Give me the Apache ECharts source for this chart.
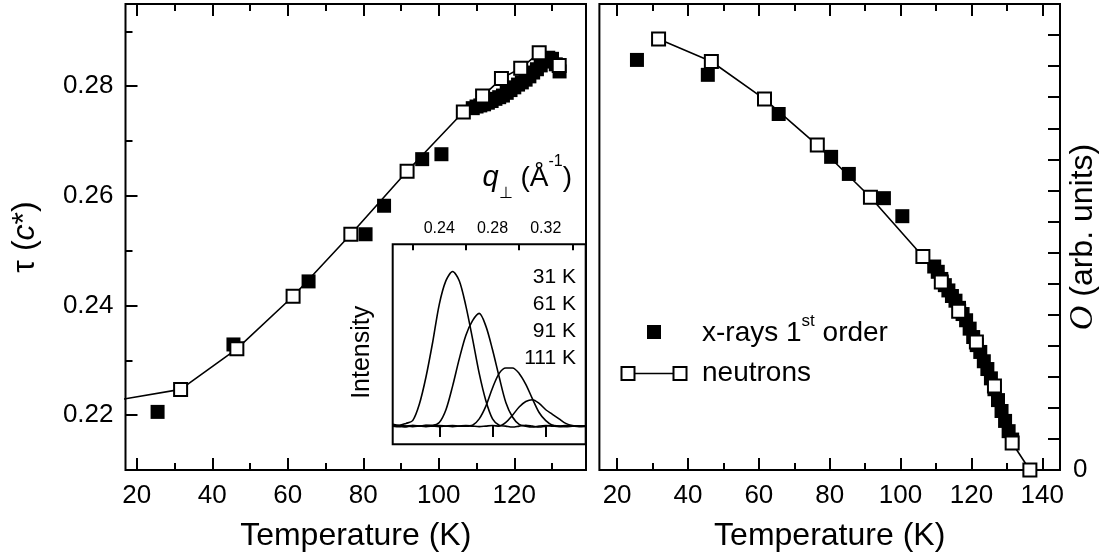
<!DOCTYPE html>
<html>
<head>
<meta charset="utf-8">
<script src="https://cdn.jsdelivr.net/npm/echarts@6/dist/echarts.min.js"></script>
<style>
  html, body { margin: 0; padding: 0; background: #fff; }
  #chart { width: 1114px; height: 557px; }
</style>
</head>
<body>
<div id="chart"></div>
<script>
// ---- Left panel: modulation wave vector tau (units of c*) vs temperature ----
const T_XRAY_L = [25.5, 45.6, 65.5, 80.6, 85.5, 95.6, 100.7,
  109, 110, 111, 112, 113, 114, 115, 116, 117, 118, 119, 120,
  121, 122, 123, 124, 125, 126, 127, 128, 129, 130, 131, 132];
const TAU_XRAY = [0.2206, 0.2329, 0.2444, 0.2530, 0.2582, 0.2667, 0.2676,
  0.2760, 0.2763, 0.2765, 0.2767, 0.2770, 0.2773, 0.2777, 0.2780, 0.2783, 0.2788, 0.2793, 0.2798,
  0.2803, 0.2807, 0.2812, 0.2818, 0.2825, 0.2831, 0.2838, 0.2845, 0.2852, 0.2850, 0.2840, 0.2827];
const T_NEUT_L = [11, 31.6, 46.5, 61.4, 76.7, 91.6, 106.5, 111.6, 116.6, 121.7, 126.6, 131.9];
const TAU_NEUT = [0.2223, 0.2247, 0.2321, 0.2417, 0.2530, 0.2645, 0.2753, 0.2782, 0.2814, 0.2833, 0.2861, 0.2838];

// ---- Right panel: order parameter (arb. units) vs temperature ----
const T_XRAY_R = [25.6, 45.6, 65.6, 80.4, 85.4, 95.3, 100.5,
  109.5, 110.5, 111.5, 112.5, 113.5, 114.5, 115.5, 116.5, 117.5, 118.5, 119.5, 120.5,
  121.5, 122.5, 123.5, 124.5, 125.5, 126.5, 127.5, 128.5, 129.5, 130.5, 131.5];
const OP_XRAY = [13.2, 12.72, 11.46, 10.08, 9.53, 8.75, 8.17,
  6.55, 6.38, 6.15, 5.95, 5.78, 5.60, 5.45, 5.22, 5.02, 4.82, 4.55, 4.28,
  4.02, 3.80, 3.50, 3.25, 2.95, 2.60, 2.25, 1.90, 1.58, 1.25, 0.98];
const T_NEUT_R = [31.7, 46.6, 61.6, 76.5, 91.5, 106.3, 111.5, 116.4, 121.4, 126.5, 131.5, 136.5];
const OP_NEUT = [13.87, 13.15, 11.94, 10.46, 8.78, 6.87, 6.05, 5.11, 4.12, 2.70, 0.87, 0.0];

// ---- Inset: scans along q_perp at four temperatures ----
const Q_GRID = [0.205, 0.210, 0.215, 0.220, 0.225, 0.230, 0.235, 0.240, 0.245, 0.250,
  0.255, 0.260, 0.265, 0.270, 0.275, 0.280, 0.285, 0.290, 0.295, 0.300,
  0.305, 0.310, 0.315, 0.320, 0.325, 0.330, 0.335, 0.340, 0.345, 0.350];
const I_31K = [1, 0.5, 1.5, 3, 12, 27, 46, 67, 80, 85, 80, 66, 48, 29, 14, 4, 0.5, 0, -0.5, 0,
  0.5, 0, -0.5, 0, 0.5, 0, -0.3, 0, 0.2, 0];
const I_61K = [0.5, 0, -0.5, 0.3, 0, 0.5, 0.5, 2, 9, 22, 37, 50, 58, 62, 55, 42, 27, 13, 5, 1,
  0, -0.5, 0, 0.3, 0, -0.3, 0, 0.2, 0, -0.2];
const I_91K = [0, 0.3, 0, -0.3, 0, 0.3, 0, -0.3, 0, 0.3, 0, 0, 0.5, 4, 11, 21, 29, 32, 32, 29,
  23, 15, 7.5, 3, 0.5, 0, 0.3, 0, -0.3, 0];
const I_111K = [0, -0.3, 0, 0.3, 0, -0.3, 0, 0.3, 0, -0.3, 0, 0.3, 0, -0.3, 0, 0.3, 0, 2, 6, 10.5,
  13.5, 14.5, 12.5, 9, 6.5, 4, 1.5, 0.3, 0, 0];
const INSET_LABELS = ['31 K', '61 K', '91 K', '111 K'];

// ---- Tick positions ----
const T_MAJOR_L = [20, 40, 60, 80, 100, 120];
const T_MINOR_L = [30, 50, 70, 90, 110, 130];
const T_MAJOR_R = [20, 40, 60, 80, 100, 120, 140];
const T_MINOR_R = [30, 50, 70, 90, 110, 130];
const TAU_MAJOR = [0.22, 0.24, 0.26, 0.28];
const TAU_MINOR = [0.23, 0.25, 0.27, 0.29];
const Q_MAJOR = [0.24, 0.28, 0.32];
const Q_MINOR = [0.22, 0.26, 0.30, 0.34];

const FONT = '"Liberation Sans", Arial, Helvetica, sans-serif';
const SERIF = '"Liberation Serif", "Times New Roman", serif';
const BLACK = '#000';

const zip = (xs, ys) => xs.map((x, i) => [x, ys[i]]);

// Tick-only axis (no line, no labels) used for inner tick marks on any side.
function tickAxis(gridIndex, position, min, max, values, length) {
  return {
    gridIndex, type: 'value', position, min, max,
    axisLine: { show: false }, splitLine: { show: false },
    axisTick: { show: true, inside: true, length, customValues: values,
      lineStyle: { color: BLACK, width: 2 } },
    axisLabel: { show: false }
  };
}

function labelAxis(gridIndex, position, min, max, values, length, fontSize, margin, formatter) {
  const ax = tickAxis(gridIndex, position, min, max, values, length);
  ax.axisLabel = { show: true, customValues: values, fontSize, margin,
    color: BLACK, fontFamily: FONT };
  if (formatter) ax.axisLabel.formatter = formatter;
  return ax;
}

const tempName = {
  name: 'Temperature (K)', nameLocation: 'middle', nameGap: 50, nameMoveOverlap: false,
  nameTextStyle: { fontSize: 32, color: BLACK, fontFamily: FONT }
};

const xAxes = [
  // left panel
  Object.assign(labelAxis(0, 'bottom', 17, 139, T_MAJOR_L, 12, 26, 13), tempName),
  tickAxis(0, 'bottom', 17, 139, T_MINOR_L, 7),
  tickAxis(0, 'top', 17, 139, T_MAJOR_L, 12),
  tickAxis(0, 'top', 17, 139, T_MINOR_L, 7),
  // right panel
  Object.assign(labelAxis(1, 'bottom', 15, 145, T_MAJOR_R, 12, 26, 13), tempName),
  tickAxis(1, 'bottom', 15, 145, T_MINOR_R, 7),
  tickAxis(1, 'top', 15, 145, T_MAJOR_R, 12),
  tickAxis(1, 'top', 15, 145, T_MINOR_R, 7),
  // inset (q axis along the top)
  labelAxis(2, 'top', 0.205, 0.35, Q_MAJOR, 11, 16, 8, v => v.toFixed(2)),
  tickAxis(2, 'top', 0.205, 0.35, Q_MINOR, 6)
];

const yLeft = labelAxis(0, 'left', 0.21, 0.295, TAU_MAJOR, 12, 26, 12, v => v.toFixed(2));
Object.assign(yLeft, {
  name: '{n|τ (}{i|c}{n|*)}', nameLocation: 'middle', nameRotate: 90, nameGap: 84,
  nameMoveOverlap: false,
  nameTextStyle: { fontSize: 32, color: BLACK, fontFamily: FONT,
    rich: {
      n: { fontSize: 32, color: BLACK, fontFamily: FONT },
      i: { fontSize: 32, color: BLACK, fontFamily: FONT, fontStyle: 'italic' }
    } }
});

const yRight = {
  gridIndex: 1, type: 'value', position: 'right', min: 0, max: 15, interval: 1,
  axisLine: { show: false }, splitLine: { show: false },
  axisTick: { show: true, inside: true, length: 12, lineStyle: { color: BLACK, width: 2 } },
  axisLabel: { show: true, customValues: [0], fontSize: 26, margin: 13, color: BLACK, fontFamily: FONT },
  name: '{o|O}{n| (arb. units)}', nameLocation: 'middle', nameRotate: 90, nameGap: 6,
  nameMoveOverlap: false,
  nameTextStyle: { fontSize: 32, color: BLACK, fontFamily: FONT,
    rich: {
      o: { fontSize: 34, color: BLACK, fontFamily: SERIF, fontStyle: 'italic' },
      n: { fontSize: 32, color: BLACK, fontFamily: FONT }
    } }
};

const yInset = {
  gridIndex: 2, type: 'value', min: -10, max: 100,
  axisLine: { show: false }, splitLine: { show: false },
  axisTick: { show: false }, axisLabel: { show: false },
  name: 'Intensity', nameLocation: 'middle', nameRotate: 90, nameGap: 18,
  nameMoveOverlap: false,
  nameTextStyle: { fontSize: 25, color: BLACK, fontFamily: FONT, padding: [0, 16, 0, 0] }
};

const yAxes = [yLeft, tickAxis(0, 'left', 0.21, 0.295, TAU_MINOR, 7), yRight, yInset];

const xraySeries = (xi, yi, data) => ({
  type: 'scatter', xAxisIndex: xi, yAxisIndex: yi, data,
  symbol: 'rect', symbolSize: 14, itemStyle: { color: BLACK, opacity: 1 }, z: 2, silent: true
});
const neutronSeries = (xi, yi, data) => ({
  type: 'line', xAxisIndex: xi, yAxisIndex: yi, data, clip: true,
  symbol: 'rect', symbolSize: 13, showSymbol: true, showAllSymbol: true,
  itemStyle: { color: '#fff', borderColor: BLACK, borderWidth: 2, opacity: 1 },
  lineStyle: { color: BLACK, width: 1.6 }, z: 3, silent: true
});
const scanSeries = (vals) => ({
  type: 'line', xAxisIndex: 8, yAxisIndex: 3, data: zip(Q_GRID, vals),
  symbol: 'none', smooth: 0.3, lineStyle: { color: BLACK, width: 1.6 }, z: 3, silent: true
});

const option = {
  animation: false,
  backgroundColor: '#fff',
  grid: [
    { left: 125.5, top: 4, width: 460.5, height: 467.3, show: true, borderColor: BLACK, borderWidth: 2 },
    { left: 599.4, top: 4, width: 460.6, height: 467.3, show: true, borderColor: BLACK, borderWidth: 2 },
    { left: 392.7, top: 244.3, width: 193, height: 200, show: true, borderColor: BLACK, borderWidth: 2,
      backgroundColor: '#fff' }
  ],
  xAxis: xAxes,
  yAxis: yAxes,
  series: [
    xraySeries(0, 0, zip(T_XRAY_L, TAU_XRAY)),
    neutronSeries(0, 0, zip(T_NEUT_L, TAU_NEUT)),
    xraySeries(4, 2, zip(T_XRAY_R, OP_XRAY)),
    neutronSeries(4, 2, zip(T_NEUT_R, OP_NEUT)),
    scanSeries(I_31K), scanSeries(I_61K), scanSeries(I_91K), scanSeries(I_111K)
  ],
  graphic: [
    // inset axis title
    { type: 'text', x: 572, y: 154, z: 10,
      style: { text: '{q|q}{sub|⊥}{n| (Å}{sup|-1}{n|)}', align: 'right', verticalAlign: 'top',
        fill: BLACK, font: '28px ' + FONT,
        rich: {
          q: { fontSize: 29, lineHeight: 48, fontStyle: 'italic', fontFamily: FONT, fill: BLACK },
          n: { fontSize: 28, lineHeight: 48, fontFamily: FONT, fill: BLACK },
          sub: { fontSize: 16, lineHeight: 16, verticalAlign: 'bottom', fontFamily: FONT, fill: BLACK },
          sup: { fontSize: 16, lineHeight: 28, verticalAlign: 'top', fontFamily: FONT, fill: BLACK }
        } } },
    // inset temperature list
    { type: 'text', x: 576, y: 264.3, z: 10,
      style: { text: INSET_LABELS.join('\n'), align: 'right', verticalAlign: 'top',
        fill: BLACK, fontSize: 21, lineHeight: 26.7, fontFamily: FONT } },
    // legend: x-rays
    { type: 'rect', z: 10, shape: { x: 647, y: 325, width: 14, height: 14 }, style: { fill: BLACK } },
    { type: 'text', x: 702, y: 333, z: 10,
      style: { text: '{n|x-rays 1}{sup|st}{n| order}', align: 'left', verticalAlign: 'middle',
        fill: BLACK, fontSize: 28, fontFamily: FONT,
        rich: {
          n: { fontSize: 28, lineHeight: 40, fontFamily: FONT, fill: BLACK },
          sup: { fontSize: 17, lineHeight: 17, verticalAlign: 'top', fontFamily: FONT, fill: BLACK }
        } } },
    // legend: neutrons
    { type: 'line', z: 10, shape: { x1: 628, y1: 373.5, x2: 680, y2: 373.5 },
      style: { stroke: BLACK, lineWidth: 1.6 } },
    { type: 'rect', z: 11, shape: { x: 621.5, y: 367, width: 13, height: 13 },
      style: { fill: '#fff', stroke: BLACK, lineWidth: 2 } },
    { type: 'rect', z: 11, shape: { x: 673.5, y: 367, width: 13, height: 13 },
      style: { fill: '#fff', stroke: BLACK, lineWidth: 2 } },
    { type: 'text', x: 702, y: 373.5, z: 10,
      style: { text: 'neutrons', align: 'left', verticalAlign: 'middle',
        fill: BLACK, fontSize: 28, fontFamily: FONT } }
  ]
};

const chart = echarts.init(document.getElementById('chart'), null, { renderer: 'canvas' });
chart.setOption(option);
</script>
</body>
</html>
